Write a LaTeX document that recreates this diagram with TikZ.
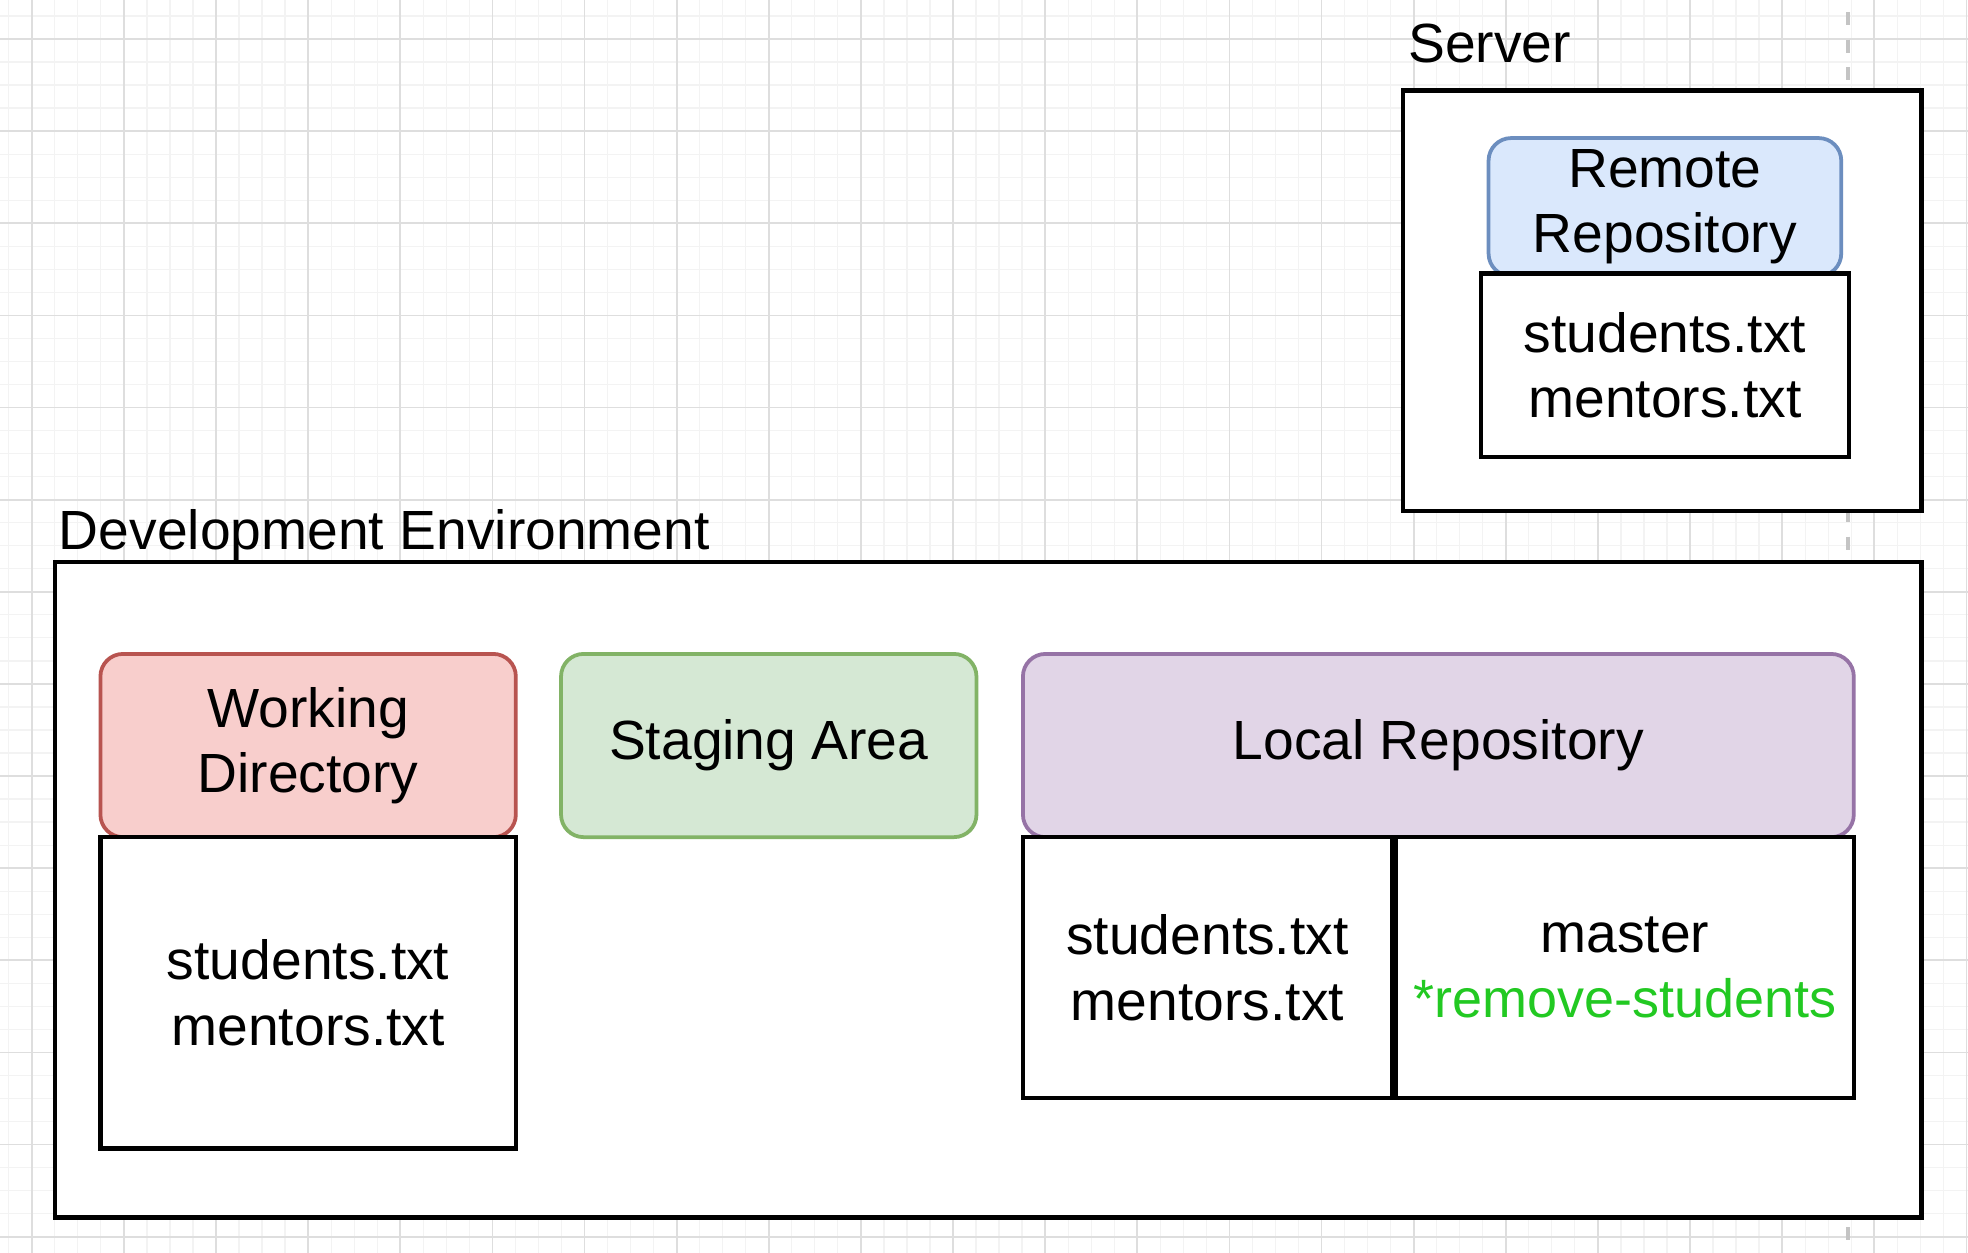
\documentclass[tikz,border=0pt]{standalone}
\usepackage{fontspec}
\setmainfont{Liberation Sans}
\usetikzlibrary{positioning}
\definecolor{gridmajor}{HTML}{DEDEDE}
\definecolor{gridminor}{HTML}{F3F3F3}
\definecolor{lanegray}{HTML}{C4C4C4}
\definecolor{wdfill}{HTML}{F8CECC}
\definecolor{wddraw}{HTML}{B85450}
\definecolor{safill}{HTML}{D5E8D4}
\definecolor{sadraw}{HTML}{82B366}
\definecolor{lrfill}{HTML}{E1D5E7}
\definecolor{lrdraw}{HTML}{9673A6}
\definecolor{rrfill}{HTML}{DAE8FC}
\definecolor{rrdraw}{HTML}{6C8EBF}
\definecolor{branchgreen}{HTML}{22C922}
\begin{document}
\begin{tikzpicture}[
  x=1pt, y=-1pt,
  every node/.style={font=\fontsize{44}{52}\selectfont, outer sep=0pt},
  box/.style={rectangle, draw, line width=3.4pt, fill=white, align=center, inner sep=0pt},
  head/.style={rectangle, draw, rounded corners=18pt, line width=3pt, align=center, inner sep=0pt, minimum height=146pt},
  wdhead/.style={head, fill=wdfill, draw=wddraw},
  sahead/.style={head, fill=safill, draw=sadraw},
  lrhead/.style={head, fill=lrfill, draw=lrdraw},
  rrhead/.style={head, fill=rrfill, draw=rrdraw},
  lbl/.style={inner sep=0pt},
  minorline/.style={draw=gridminor, line width=1pt},
  majorline/.style={draw=gridmajor, line width=1.4pt},
  lane/.style={draw=lanegray, line width=3pt, dash pattern=on 10.5pt off 11.5pt},
]
\useasboundingbox[fill=white] (0,0) rectangle (1568,998);

% Background grid
\foreach \i in {-1,...,85} \draw[minorline] ({25.3+\i*18.35},0) -- ++(0,998);
\foreach \j in {-2,...,53} \draw[minorline] (0,{31.1+\j*18.35}) -- ++(1568,0);
\foreach \i in {0,...,21} \draw[majorline] ({25.3+\i*73.4},0) -- ++(0,998);
\foreach \j in {0,...,13} \draw[majorline] (0,{31.1+\j*73.4}) -- ++(1568,0);

% Lane divider
\coordinate (lanetop) at (1472.5,9.6);
\coordinate (lanebot) at (1472.5,998);
\draw[lane] (lanetop) -- (lanebot);

% Server
\node[box, anchor=north west, minimum width=413pt, minimum height=335pt] (server) at (1118,72) {};
\node[lbl, above right=22pt and 4pt of server.north west] (serverlbl) {Server};
\node[rrhead, minimum width=281pt, minimum height=110pt, below=36pt of server.north, xshift=2pt, yshift=-2pt] (remote) {Remote\\Repository};
\node[box, minimum width=293pt, minimum height=146pt, below=-2pt of remote] (remotefiles) {students.txt\\mentors.txt};

% Development environment
\node[box, anchor=north west, minimum width=1487pt, minimum height=522pt] (dev) at (44,448) {};
\node[lbl, above right=1pt and 3pt of dev.north west] (devlbl) {Development Environment};

% Areas
\node[wdhead, minimum width=331pt, below right=73pt and 36pt of dev.north west] (wd) {Working\\Directory};
\node[box, minimum width=331pt, minimum height=248pt, below=0pt of wd] (wdfiles) {students.txt\\mentors.txt};
\node[sahead, minimum width=331pt, right=36pt of wd] (staging) {Staging Area};
\node[lrhead, minimum width=662pt, right=37pt of staging] (local) {Local Repository};
\node[box, minimum width=294pt, minimum height=208pt, below right=0pt and 0pt of local.south west] (localfiles) {students.txt\\mentors.txt};
\node[box, minimum width=365pt, minimum height=208pt, right=3pt of localfiles] (branches) {master\\{\color{branchgreen}\fontsize{43}{52}\selectfont *remove-students}};
\end{tikzpicture}
\end{document}
